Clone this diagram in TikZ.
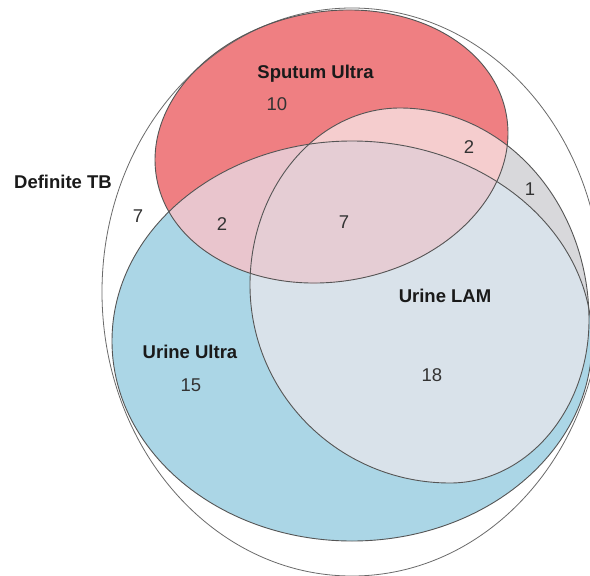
\documentclass[tikz,border=0pt]{standalone}
\usepackage{fontspec}
\setmainfont{Liberation Sans}
\definecolor{blueU}{HTML}{ABD6E6}
\definecolor{lamonly}{HTML}{D8D8DB}
\definecolor{lamblue}{HTML}{D9E2EA}
\definecolor{redonly}{HTML}{EF7F82}
\definecolor{redlam}{HTML}{F5CDCE}
\definecolor{redblue}{HTML}{E9C5CD}
\definecolor{allthree}{HTML}{E5CDD4}
\definecolor{edgec}{HTML}{555555}
\definecolor{outerc}{HTML}{6A6A6A}
\definecolor{labelc}{HTML}{1A1A1A}
\definecolor{numc}{HTML}{333333}
\newcommand\ShapeSput[1]{\path[#1,rotate around={10.4:(331.5,-146.5)}] (331.5,-146.5) ellipse [x radius=177.7,y radius=134.9];}
\newcommand\ShapeLam[1]{\path[#1] (250,-285)
  arc[start angle=180, end angle=90, x radius=150, y radius=177]
  arc[start angle=90, end angle=0, x radius=189, y radius=212]
  arc[start angle=0, end angle=-90, x radius=139, y radius=163]
  arc[start angle=270, end angle=180, x radius=200, y radius=198] -- cycle;}
\newcommand\ShapeBlue[1]{\path[#1] (352,-341) ellipse [x radius=240,y radius=200];}
\newcommand\ShapeOuter[1]{\path[#1] (352,-292) ellipse [x radius=250,y radius=284];}
\tikzset{
  setlabel/.style={font=\bfseries\fontsize{18.5}{20}\selectfont, text=labelc, inner sep=0pt, anchor=base},
  setnum/.style={font=\fontsize{18.5}{20}\selectfont, text=numc, inner sep=0pt, anchor=base},
  edge/.style={draw=edgec, line width=0.9pt},
}
\begin{document}
\begin{tikzpicture}[x=1pt,y=1pt]
\useasboundingbox (0,0) rectangle (590,-576);
\begin{scope}
\clip (0,0) rectangle (590,-576);
\fill[white] (0,0) rectangle (590,-576);
% fills
\ShapeBlue{fill=blueU}
\ShapeLam{fill=lamonly}
\begin{scope}
  \ShapeBlue{clip}
  \ShapeLam{fill=lamblue}
\end{scope}
\ShapeSput{fill=redonly}
\begin{scope}
  \ShapeSput{clip}
  \ShapeLam{fill=redlam}
\end{scope}
\begin{scope}
  \ShapeSput{clip}
  \ShapeBlue{fill=redblue}
\end{scope}
\begin{scope}
  \ShapeSput{clip}
  \ShapeBlue{clip}
  \ShapeLam{fill=allthree}
\end{scope}
% outlines
\ShapeOuter{draw=outerc, line width=0.8pt}
\ShapeBlue{edge}
\ShapeLam{edge}
\ShapeSput{edge}
\end{scope}
% labels
\node[setlabel] (lsput) at (315.5,-78) {Sputum Ultra};
\node[setlabel] (ldef) at (63,-188) {Definite TB};
\node[setlabel] (lurine) at (190,-358) {Urine Ultra};
\node[setlabel] (llam) at (445,-302.5) {Urine LAM};
% counts
\node[setnum] (n10) at (277,-110) {10};
\node[setnum] (n2a) at (469,-153) {2};
\node[setnum] (n1) at (530,-195) {1};
\node[setnum] (n7a) at (138,-222) {7};
\node[setnum] (n2b) at (222,-230) {2};
\node[setnum] (n7b) at (344,-228) {7};
\node[setnum] (n18) at (432,-381) {18};
\node[setnum] (n15) at (191,-391) {15};
\end{tikzpicture}
\end{document}
